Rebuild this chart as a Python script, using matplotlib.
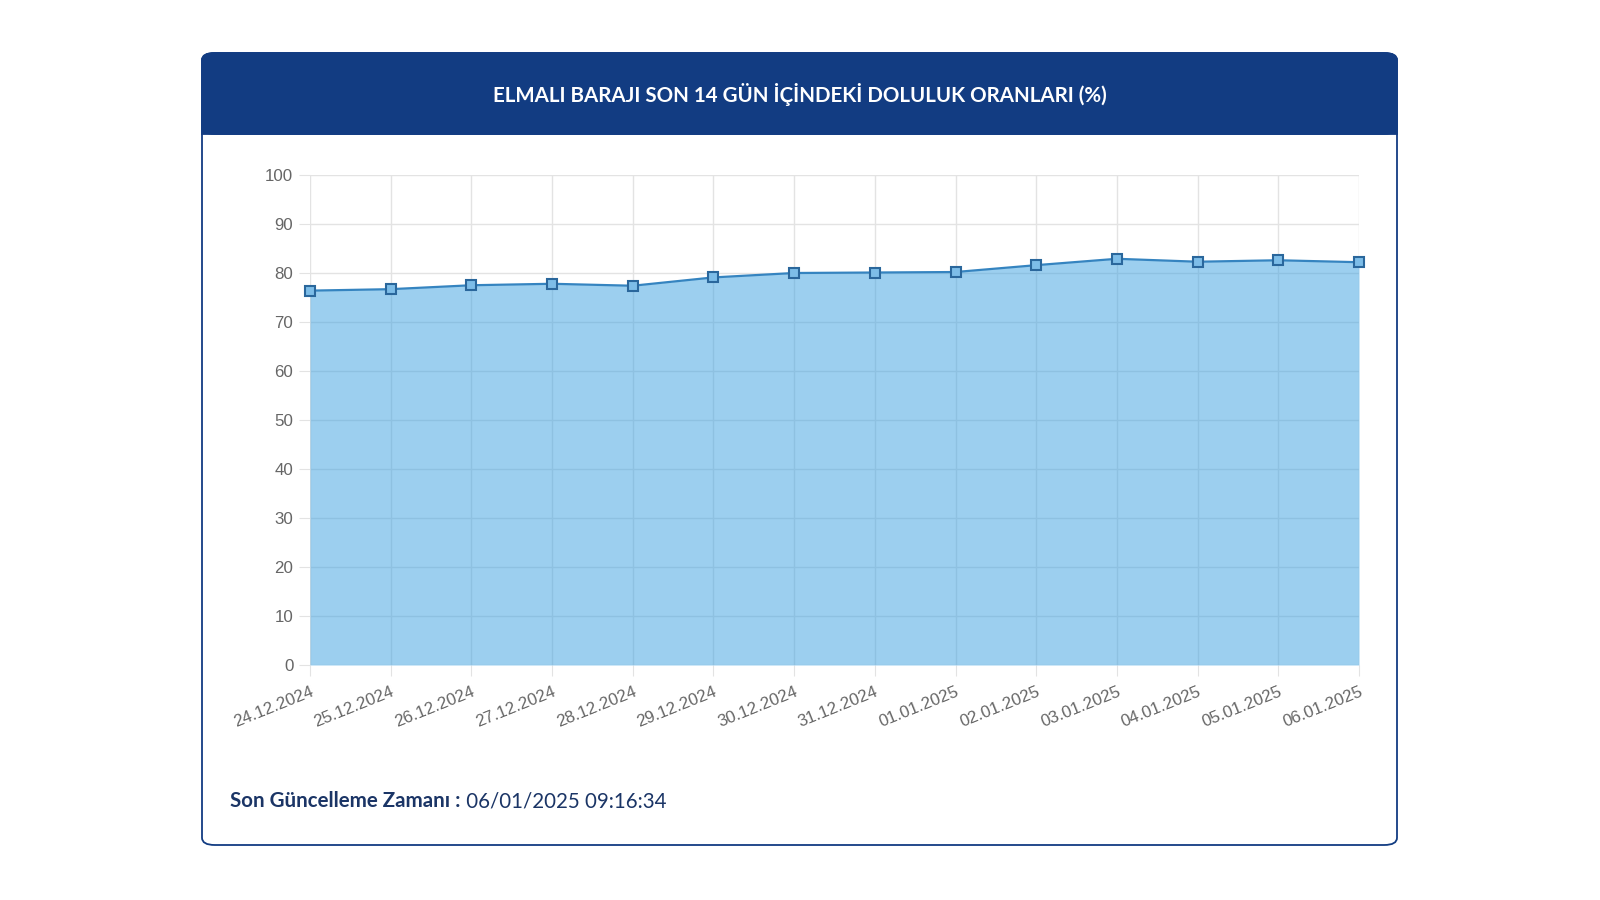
import matplotlib
matplotlib.use("Agg")
import matplotlib.pyplot as plt
from matplotlib.patches import FancyBboxPatch, Rectangle

dates = ["24.12.2024", "25.12.2024", "26.12.2024", "27.12.2024", "28.12.2024",
         "29.12.2024", "30.12.2024", "31.12.2024", "01.01.2025", "02.01.2025",
         "03.01.2025", "04.01.2025", "05.01.2025", "06.01.2025"]
values = [76.4, 76.7, 77.5, 77.8, 77.4, 79.1, 80.0, 80.1, 80.2, 81.6, 82.9, 82.3, 82.6, 82.2]
y_ticks = [0, 10, 20, 30, 40, 50, 60, 70, 80, 90, 100]

title = "ELMALI BARAJI SON 14 GÜN İÇİNDEKİ DOLULUK ORANLARI (%)"
footer_label = "Son Güncelleme Zamanı :"
footer_value = " 06/01/2025 09:16:34"

NAVY = "#123c82"
TEXT_NAVY = "#1b3566"
W, H = 1600, 900
fig = plt.figure(figsize=(16, 9), dpi=100)
fig.patch.set_facecolor("white")

def fx(px): return px / W
def fy(py): return 1 - py / H

# card
card_l, card_r, card_t, card_b = 202, 1397, 53, 845
card = FancyBboxPatch((fx(card_l), fy(card_b)), fx(card_r - card_l), (card_b - card_t) / H,
                      boxstyle="round,pad=0,rounding_size=0.008", transform=fig.transFigure,
                      facecolor="white", edgecolor=NAVY, linewidth=1.3, zorder=-2)
fig.patches.append(card)
# header
hdr_b = 134
hdr = FancyBboxPatch((fx(card_l), fy(hdr_b)), fx(card_r - card_l), (hdr_b - card_t) / H,
                     boxstyle="round,pad=0,rounding_size=0.008", transform=fig.transFigure,
                     facecolor=NAVY, edgecolor=NAVY, linewidth=1.3, zorder=-1)
fig.patches.append(hdr)
hdr_fix = Rectangle((fx(card_l), fy(hdr_b)), fx(card_r - card_l), 20 / H,
                    transform=fig.transFigure, facecolor=NAVY, edgecolor=NAVY,
                    linewidth=1.3, zorder=-1)
fig.patches.append(hdr_fix)
fig.text(fx(800), fy(95), title, ha="center", va="center", color="white",
         fontsize=14.8, fontweight="bold", family="Lato", zorder=3)

# axes
ax_l, ax_r, ax_t, ax_b = 310, 1359, 175, 665
ax = fig.add_axes([fx(ax_l), fy(ax_b), fx(ax_r - ax_l), (ax_b - ax_t) / H], zorder=5)
ax.set_facecolor("none")
x = list(range(len(dates)))
ax.fill_between(x, values, 0, color="#3ba0e0", alpha=0.5, linewidth=0, zorder=2)
ax.plot(x, values, color="#3584c0", linewidth=1.6, zorder=3, clip_on=False,
        marker="s", markersize=6.5, markerfacecolor="#7dbde8",
        markeredgecolor="#2a679c", markeredgewidth=1.5)
ax.set_xlim(0, len(dates) - 1)
ax.set_ylim(0, 100)
ax.set_yticks(y_ticks)
ax.set_xticks(x)
ax.set_xticklabels(dates, rotation=22, ha="right", rotation_mode="anchor")
ax.grid(True, color="#e3e3e3", linewidth=1, zorder=1)
ax.set_axisbelow(True)
for s in ax.spines.values():
    s.set_visible(False)
ax.tick_params(axis="both", length=8, color="#e3e3e3", labelcolor="#666666",
               labelsize=12.2, pad=4)
ax.tick_params(axis="x", pad=6)
for lab in ax.get_xticklabels() + ax.get_yticklabels():
    lab.set_family("Liberation Sans")

# footer
fig.canvas.draw()
r = fig.canvas.get_renderer()
t1 = fig.text(fx(230), fy(801), footer_label, ha="left", va="center", color=TEXT_NAVY,
              fontsize=14.8, fontweight="bold", family="Lato")
bb = t1.get_window_extent(renderer=r)
fig.text(bb.x1 / W, fy(801), footer_value, ha="left", va="center", color=TEXT_NAVY,
         fontsize=14.8, family="Lato")

fig.savefig("out.png", dpi=100, facecolor="white")
